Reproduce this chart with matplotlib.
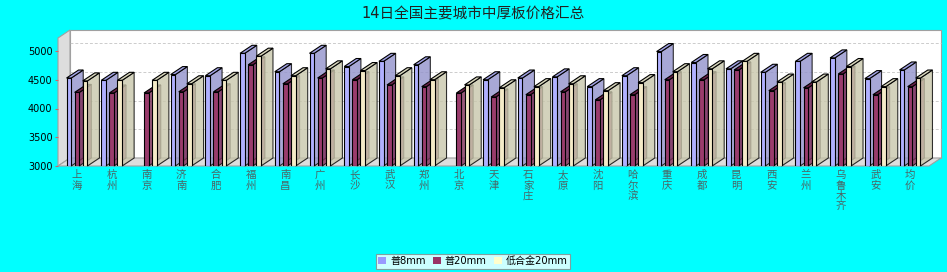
import numpy as np
import matplotlib
matplotlib.use('Agg')
import matplotlib.pyplot as plt
from matplotlib.patches import Polygon, Patch

plt.rcParams['font.family'] = ['DejaVu Sans', 'Noto Sans CJK SC']

title = '14日全国主要城市中厚板价格汇总'
cities = ['上海', '杭州', '南京', '济南', '合肥', '福州', '南昌', '广州', '长沙', '武汉',
          '郑州', '北京', '天津', '石家庄', '太原', '沈阳', '哈尔滨', '重庆', '成都', '昆明',
          '西安', '兰州', '乌鲁木齐', '武安', '均价']
series_names = ['普8mm', '普20mm', '低合金20mm']
pu8 = [4530, 4490, np.nan, 4590, 4570, 4960, 4640, 4960, 4730, 4820, 4760, np.nan, 4500,
       4530, 4550, 4380, 4570, 4990, 4800, 4690, 4630, 4820, 4880, 4520, 4670]
pu20 = [4280, 4270, 4270, 4290, 4290, 4760, 4430, 4530, 4500, 4410, 4380, 4270, 4200,
        4240, 4290, 4150, 4240, 4500, 4500, 4670, 4310, 4360, 4600, 4240, 4380]
dhj20 = [4480, 4490, 4490, 4430, 4490, 4910, 4570, 4690, 4660, 4570, 4500, 4410, 4360,
         4380, 4430, 4310, 4450, 4640, 4690, 4820, 4460, 4460, 4730, 4380, 4530]
yticks = [3000, 3500, 4000, 4500, 5000]

legend_colors = ['#9999FF', '#993366', '#FFFFCC']
front_colors = ['#B0B0FF', '#9A3C6C', '#F5EBC8']
side_colors = ['#9393CC', '#7E2E58', '#C9C7AC']
top_colors = ['#A3A3E6', '#6B2049', '#DAD8BE']

W, H = 947, 272
fig = plt.figure(figsize=(W / 100, H / 100), dpi=100)
fig.patch.set_facecolor('#00FFFF')

# front plane of the 3D plot box (pixels)
left_px, right_px, bot_px, top_px = 58, 929, 166, 38
ax = fig.add_axes([left_px / W, 1 - bot_px / H, (right_px - left_px) / W, (bot_px - top_px) / H])
ax.set_facecolor('none')
for s in ax.spines.values():
    s.set_visible(False)

n = len(cities)
x = np.arange(n)
xmin, xmax = -0.547, n - 1 + 0.547
ymin, ymax = 3000, 3000 + (bot_px - top_px) / 115 * 2000
ax.set_xlim(xmin, xmax)
ax.set_ylim(ymin, ymax)

# 3D depth offsets: 12 px right, 8 px up
px_x = (right_px - left_px) / (xmax - xmin)
px_y = (bot_px - top_px) / (ymax - ymin)
dx = 12 / px_x
dy = 8 / px_y

wall_edge = '#A0A0A0'
# back wall
ax.add_patch(Polygon([(xmin + dx, ymin + dy), (xmax + dx, ymin + dy), (xmax + dx, ymax + dy),
                      (xmin + dx, ymax + dy)], closed=True, facecolor='white',
                     edgecolor=wall_edge, lw=0.8, clip_on=False, zorder=0))
# left wall
ax.add_patch(Polygon([(xmin, ymin), (xmin + dx, ymin + dy), (xmin + dx, ymax + dy), (xmin, ymax)],
                     closed=True, facecolor='#DDDDDD', edgecolor=wall_edge, lw=0.8,
                     clip_on=False, zorder=1))
# floor
ax.add_patch(Polygon([(xmin, ymin), (xmax, ymin), (xmax + dx, ymin + dy), (xmin + dx, ymin + dy)],
                     closed=True, facecolor='#DDDDDD', edgecolor=wall_edge, lw=0.8,
                     clip_on=False, zorder=1))
# gridlines on the back wall
for v in yticks[1:]:
    ax.plot([xmin + dx, xmax + dx], [v + dy, v + dy], color='#CCCCCC', lw=0.7,
            ls=(0, (3, 2)), clip_on=False, zorder=0.5)

w = 4.7 / px_x
pitch = 8.1 / px_x
offsets = [-pitch, 0, pitch]
data = [pu8, pu20, dhj20]

z = 2
for i in range(n):
    for j, vals in enumerate(data):
        v = vals[i]
        if np.isnan(v):
            continue
        x0 = x[i] + offsets[j] - w / 2
        x1 = x0 + w
        ax.add_patch(Polygon([(x1, ymin), (x1 + dx, ymin + dy), (x1 + dx, v + dy), (x1, v)],
                             closed=True, facecolor=side_colors[j], edgecolor='black',
                             lw=0.8, alpha=0.8, clip_on=False, zorder=z))
        ax.add_patch(Polygon([(x0, v), (x1, v), (x1 + dx, v + dy), (x0 + dx, v + dy)],
                             closed=True, facecolor=top_colors[j], edgecolor='black',
                             lw=0.8, clip_on=False, zorder=z))
        ax.bar(x0 + w / 2, v - ymin, bottom=ymin, width=w, color=front_colors[j],
               edgecolor='black', lw=0.8, zorder=z + 0.5)
        z += 1

ax.set_yticks(yticks)
ax.set_yticklabels([str(t) for t in yticks], fontsize=7)
ax.tick_params(axis='y', length=2, width=0.8, color='#CC6666', pad=2)
ax.set_xticks(x)
ax.set_xticklabels(['\n'.join(c) for c in cities], fontsize=7.5, color='#4A6666',
                   linespacing=1.05)
ax.tick_params(axis='x', length=0, pad=3)

fig.text(0.5, 1 - 14 / H, title, ha='center', va='center', fontsize=10.5, color='#222222')

handles = [Patch(facecolor=c, edgecolor='none') for c in legend_colors]
leg = fig.legend(handles, series_names, loc='center', bbox_to_anchor=(473 / W, 1 - 261 / H),
                 ncol=3, fontsize=7.2, frameon=True, fancybox=False, edgecolor='#888888',
                 handlelength=0.8, handleheight=0.8, handletextpad=0.4, columnspacing=0.7,
                 borderpad=0.25, borderaxespad=0)
leg.get_frame().set_linewidth(0.8)
leg.get_frame().set_facecolor('white')

fig.savefig('out.png', dpi=100, facecolor=fig.get_facecolor())
